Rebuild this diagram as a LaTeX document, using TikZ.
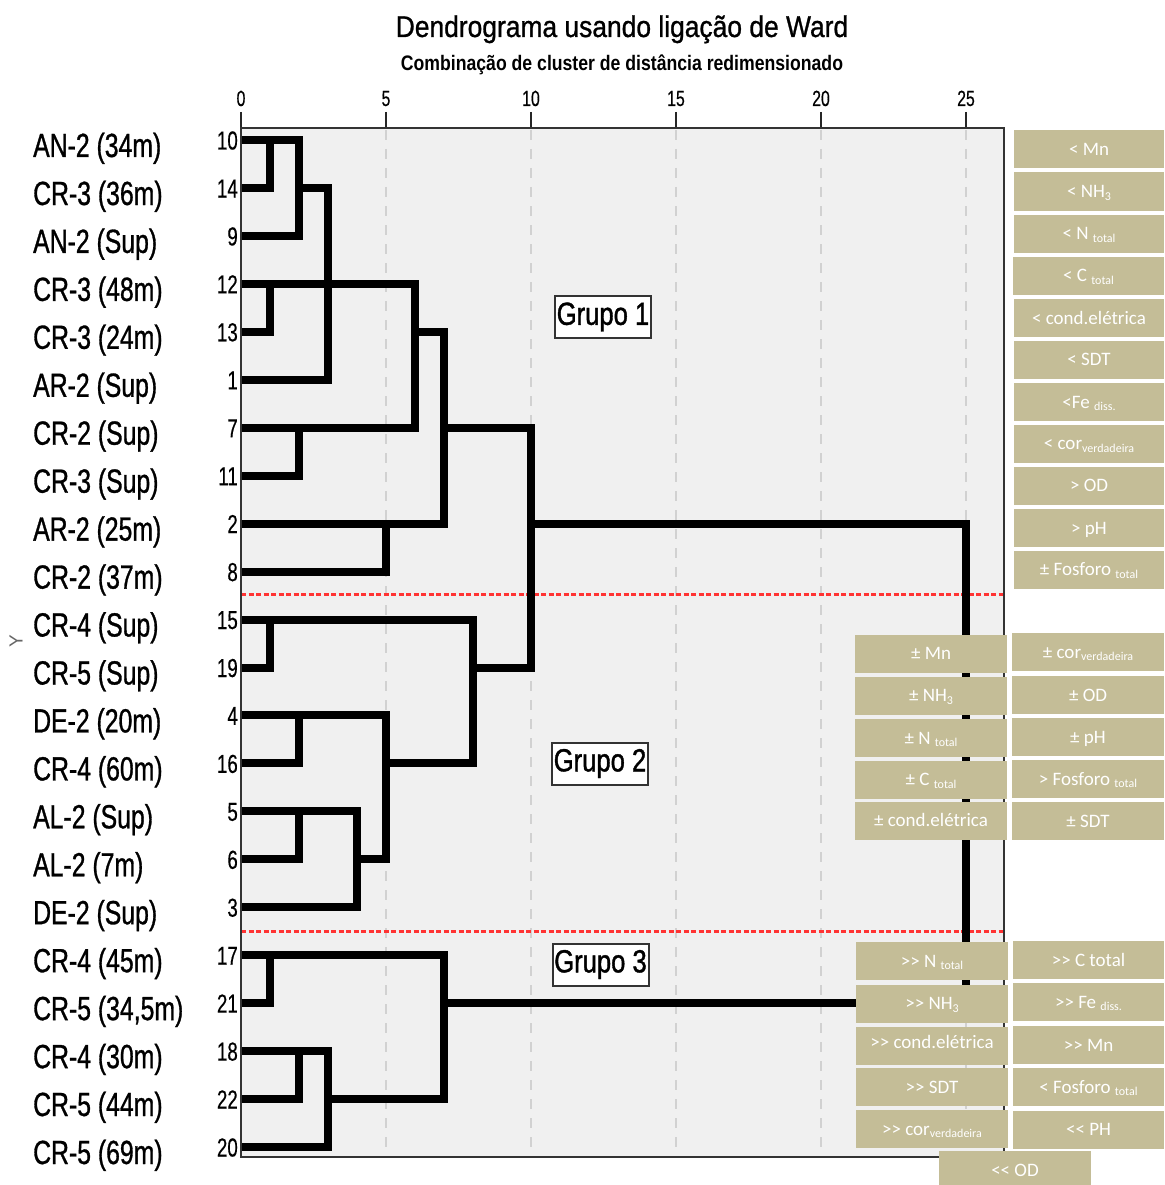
\documentclass[tikz,border=0pt]{standalone}
\usepackage{fontspec}
\setmainfont{Liberation Sans}
\newfontfamily\labfont[FakeStretch=0.74,FakeBold=0.9]{Liberation Sans}
\newfontfamily\numfont[FakeStretch=0.72,FakeBold=0.4]{Liberation Sans}
\newfontfamily\titfont[FakeStretch=0.88,FakeBold=0.9]{Liberation Sans}
\newfontfamily\subtfont[FakeStretch=0.84]{Liberation Sans}
\newfontfamily\grpfont[FakeStretch=0.80,FakeBold=1.2]{Liberation Sans}
\newfontfamily\boxfont{Carlito}
\definecolor{boxtan}{HTML}{C4BD97}
\definecolor{plotbg}{HTML}{F0F0F0}
\newcommand{\sbt}[1]{\raisebox{-2.5pt}{\fontsize{12}{12}\selectfont #1}}
\begin{document}
\begin{tikzpicture}[x=1pt,y=-1pt,
  dline/.style={line width=8pt, line cap=rect, line join=miter},
  grid/.style={draw=black!18, line width=1.5pt, dash pattern=on 10pt off 9pt},
  reddash/.style={draw=red!80, line width=3pt, dash pattern=on 5pt off 2.5pt},
  leaflab/.style={anchor=base west, inner sep=0pt, font=\labfont\fontsize{33.5}{36}\selectfont},
  leafnum/.style={anchor=base east, inner sep=0pt, font=\numfont\fontsize{26}{28}\selectfont},
  ticklab/.style={anchor=base, inner sep=0pt, font=\numfont\fontsize{22}{24}\selectfont},
  grp/.style={draw=black!80, line width=2pt, fill=white, inner sep=0pt, minimum width=96pt, minimum height=42pt, font=\grpfont\fontsize{32}{34}\selectfont},
  pbox/.style={fill=boxtan, text=white, inner sep=0pt, font=\boxfont\fontsize{19}{20}\selectfont, text height=12pt, text depth=0pt, minimum height=38pt, minimum width=152pt}
]
\useasboundingbox (0,0) rectangle (1164,1185);
% titles
\node[anchor=base, inner sep=0pt, font=\titfont\fontsize{30}{32}\selectfont] (title) at (622,37) {Dendrograma usando ligação de Ward};
\node[anchor=base, inner sep=0pt, font=\subtfont\bfseries\fontsize{21}{23}\selectfont] (subtitle) at (622,71) {Combinação de cluster de distância redimensionado};
% plot background
\fill[plotbg] (241,128) rectangle (1004,1157);
% grid
\foreach \gx in {386,531,676,821,966} \draw[grid] (\gx,130) -- (\gx,1156);
% ticks and tick labels
\foreach \gx/\gl in {241/0,386/5,531/10,676/15,821/20,966/25} {
  \draw[black!85, line width=2pt] (\gx,112) -- (\gx,128);
  \node[ticklab] (t\gl) at (\gx,106) {\gl};
}
% red group separators
\draw[reddash] (241,594) -- (1004,594);
\draw[reddash] (241,931) -- (1004,931);
% dendrogram, group 1
\draw[dline] (244,140) -- (299,140) -- (299,235.9) -- (244,235.9);
\draw[dline] (244,188) -- (270,188) -- (270,140);
\draw[dline] (299,188) -- (328,188) -- (328,379.8) -- (244,379.8);
\draw[dline] (244,283.9) -- (415,283.9) -- (415,427.7) -- (244,427.7);
\draw[dline] (244,331.8) -- (270,331.8) -- (270,283.9);
\draw[dline] (299,427.7) -- (299,475.7) -- (244,475.7);
\draw[dline] (415,331.8) -- (444,331.8) -- (444,523.6) -- (244,523.6);
\draw[dline] (386,523.6) -- (386,571.6) -- (244,571.6);
\draw[dline] (444,427.7) -- (531,427.7) -- (531,667.5) -- (473,667.5);
\draw[dline] (531,523.6) -- (966,523.6) -- (966,1003.1) -- (444,1003.1);
% group 2
\draw[dline] (244,619.5) -- (473,619.5) -- (473,763.4) -- (386,763.4);
\draw[dline] (244,667.5) -- (270,667.5) -- (270,619.5);
\draw[dline] (244,715.4) -- (386,715.4) -- (386,859.3) -- (357,859.3);
\draw[dline] (244,763.4) -- (299,763.4) -- (299,715.4);
\draw[dline] (244,811.3) -- (357,811.3) -- (357,907.2) -- (244,907.2);
\draw[dline] (244,859.3) -- (299,859.3) -- (299,811.3);
% group 3
\draw[dline] (244,955.2) -- (444,955.2) -- (444,1099) -- (328,1099);
\draw[dline] (244,1003.1) -- (270,1003.1) -- (270,955.2);
\draw[dline] (244,1051.1) -- (328,1051.1) -- (328,1147) -- (244,1147);
\draw[dline] (244,1099) -- (299,1099) -- (299,1051.1);
% plot border
\draw[black!80, line width=2pt] (241,128) rectangle (1004,1157);
% leaf labels and numbers
\node[leaflab] (l0) at (33,157) {AN-2 (34m)};
\node[leaflab] (l1) at (33,205) {CR-3 (36m)};
\node[leaflab] (l2) at (33,252.9) {AN-2 (Sup)};
\node[leaflab] (l3) at (33,300.9) {CR-3 (48m)};
\node[leaflab] (l4) at (33,348.8) {CR-3 (24m)};
\node[leaflab] (l5) at (33,396.8) {AR-2 (Sup)};
\node[leaflab] (l6) at (33,444.7) {CR-2 (Sup)};
\node[leaflab] (l7) at (33,492.7) {CR-3 (Sup)};
\node[leaflab] (l8) at (33,540.6) {AR-2 (25m)};
\node[leaflab] (l9) at (33,588.6) {CR-2 (37m)};
\node[leaflab] (l10) at (33,636.5) {CR-4 (Sup)};
\node[leaflab] (l11) at (33,684.5) {CR-5 (Sup)};
\node[leaflab] (l12) at (33,732.4) {DE-2 (20m)};
\node[leaflab] (l13) at (33,780.4) {CR-4 (60m)};
\node[leaflab] (l14) at (33,828.3) {AL-2 (Sup)};
\node[leaflab] (l15) at (33,876.3) {AL-2 (7m)};
\node[leaflab] (l16) at (33,924.2) {DE-2 (Sup)};
\node[leaflab] (l17) at (33,972.2) {CR-4 (45m)};
\node[leaflab] (l18) at (33,1020.1) {CR-5 (34,5m)};
\node[leaflab] (l19) at (33,1068.1) {CR-4 (30m)};
\node[leaflab] (l20) at (33,1116) {CR-5 (44m)};
\node[leaflab] (l21) at (33,1164) {CR-5 (69m)};
\node[leafnum] (n0) at (238,149.5) {10};
\node[leafnum] (n1) at (238,197.5) {14};
\node[leafnum] (n2) at (238,245.4) {9};
\node[leafnum] (n3) at (238,293.4) {12};
\node[leafnum] (n4) at (238,341.3) {13};
\node[leafnum] (n5) at (238,389.3) {1};
\node[leafnum] (n6) at (238,437.2) {7};
\node[leafnum] (n7) at (238,485.2) {11};
\node[leafnum] (n8) at (238,533.1) {2};
\node[leafnum] (n9) at (238,581.1) {8};
\node[leafnum] (n10) at (238,629) {15};
\node[leafnum] (n11) at (238,677) {19};
\node[leafnum] (n12) at (238,724.9) {4};
\node[leafnum] (n13) at (238,772.9) {16};
\node[leafnum] (n14) at (238,820.8) {5};
\node[leafnum] (n15) at (238,868.8) {6};
\node[leafnum] (n16) at (238,916.7) {3};
\node[leafnum] (n17) at (238,964.7) {17};
\node[leafnum] (n18) at (238,1012.6) {21};
\node[leafnum] (n19) at (238,1060.6) {18};
\node[leafnum] (n20) at (238,1108.5) {22};
\node[leafnum] (n21) at (238,1156.5) {20};
% axis label
\node[rotate=90, text=black!60, inner sep=0pt, font=\fontsize{19}{21}\selectfont] (ylab) at (16,641) {Y};
% group labels
\node[grp] (g1) at (603,317) {Grupo 1};
\node[grp] (g2) at (600,763.5) {Grupo 2};
\node[grp] (g3) at (600.5,964.5) {Grupo 3};
% right boxes, group 1
\node[pbox, minimum width=150pt] (a1) at (1089,149.5) {< Mn};
\node[pbox, minimum width=150pt] (a2) at (1089,191.5) {< NH\sbt{3}};
\node[pbox, minimum width=150pt] (a3) at (1089,233.5) {< N \sbt{total}};
\node[pbox, minimum width=151pt] (a4) at (1088.5,275.5) {< C \sbt{total}};
\node[pbox, minimum width=150pt] (a5) at (1089,318) {< cond.elétrica};
\node[pbox, minimum width=150pt] (a6) at (1089,359.5) {< SDT};
\node[pbox, minimum width=150pt] (a7) at (1089,402) {<Fe \sbt{diss.}};
\node[pbox, minimum width=150pt] (a8) at (1089,443.5) {< cor\sbt{verdadeira}};
\node[pbox, minimum width=150pt] (a9) at (1089,485.5) {> OD};
\node[pbox, minimum width=150pt] (a10) at (1089,528) {> pH};
\node[pbox, minimum width=150pt] (a11) at (1089,569.5) {± Fosforo \sbt{total}};
% group 2
\node[pbox] (b1) at (931,653.5) {± Mn};
\node[pbox] (b2) at (931,695.5) {± NH\sbt{3}};
\node[pbox] (b3) at (931,738) {± N \sbt{total}};
\node[pbox] (b4) at (931,779.5) {± C \sbt{total}};
\node[pbox] (b5) at (931,820.5) {± cond.elétrica};
\node[pbox] (c1) at (1088,652) {± cor\sbt{verdadeira}};
\node[pbox] (c2) at (1088,695) {± OD};
\node[pbox] (c3) at (1088,737) {± pH};
\node[pbox] (c4) at (1088,779) {> Fosforo \sbt{total}};
\node[pbox] (c5) at (1088,821) {± SDT};
% group 3
\node[pbox] (d1) at (932,961) {>> N \sbt{total}};
\node[pbox] (d2) at (932,1003.5) {>> NH\sbt{3}};
\node[pbox] (d3) at (932,1045.5) {\raisebox{3pt}{>> cond.elétrica}};
\node[pbox] (d4) at (932,1087) {>> SDT};
\node[pbox] (d5) at (932,1129) {>> cor\sbt{verdadeira}};
\node[pbox, minimum width=151pt] (e1) at (1088.5,960) {>> C total};
\node[pbox, minimum width=151pt] (e2) at (1088.5,1002) {>> Fe \sbt{diss.}};
\node[pbox, minimum width=151pt] (e3) at (1088.5,1045) {>> Mn};
\node[pbox, minimum width=151pt] (e4) at (1088.5,1087) {< Fosforo \sbt{total}};
\node[pbox, minimum width=151pt] (e5) at (1088.5,1129.5) {<< PH};
\node[pbox] (f1) at (1015,1170) {<< OD};
\end{tikzpicture}
\end{document}
